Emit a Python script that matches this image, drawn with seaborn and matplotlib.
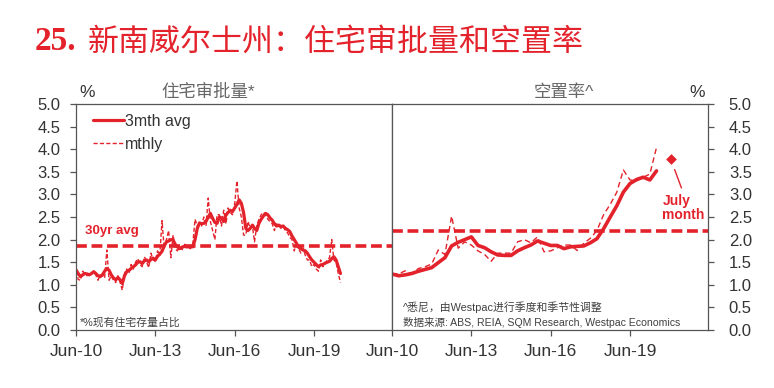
import numpy as np
import pandas as pd
import matplotlib
matplotlib.use("Agg")
import matplotlib.pyplot as plt
import seaborn as sns
from matplotlib.lines import Line2D

# ---------------- data ----------------
approvals_start = "2010-06-01"
# dwelling approvals, % of dwelling stock (annualised), 3mth avg
approvals_3mth = [
    1.33, 1.25, 1.18, 1.22, 1.25, 1.24, 1.22, 1.25, 1.29, 1.25,
    1.20, 1.18, 1.22, 1.30, 1.36, 1.32, 1.22, 1.15, 1.11, 1.16,
    1.11, 1.03, 1.20, 1.29, 1.32, 1.36, 1.40, 1.44, 1.50, 1.51,
    1.47, 1.53, 1.55, 1.51, 1.56, 1.59, 1.55, 1.63, 1.68, 1.74,
    1.86, 1.95, 1.97, 2.00, 1.99, 1.90, 1.84, 1.80, 1.83, 1.85,
    1.84, 1.84, 1.85, 1.84, 2.00, 2.25, 2.37, 2.35, 2.36, 2.40,
    2.50, 2.58, 2.47, 2.38, 2.36, 2.50, 2.48, 2.40, 2.55, 2.60,
    2.65, 2.62, 2.70, 2.78, 2.88, 2.80, 2.60, 2.25, 2.20, 2.25,
    2.32, 2.25, 2.20, 2.36, 2.45, 2.52, 2.58, 2.55, 2.48, 2.43,
    2.35, 2.30, 2.32, 2.29, 2.30, 2.25, 2.22, 2.18, 2.08, 2.00,
    1.92, 1.83, 1.80, 1.77, 1.75, 1.70, 1.62, 1.55, 1.50, 1.45,
    1.40, 1.44, 1.45, 1.48, 1.50, 1.52, 1.58, 1.62, 1.55, 1.40,
    1.25,
]
approvals_mthly = [
    1.30, 1.12, 1.10, 1.30, 1.25, 1.20, 1.26, 1.24, 1.30, 1.22,
    1.10, 1.22, 1.20, 1.15, 1.77, 1.10, 1.20, 1.10, 1.05, 1.20,
    1.05, 0.88, 1.25, 1.35, 1.25, 1.45, 1.35, 1.50, 1.58, 1.45,
    1.40, 1.62, 1.50, 1.38, 1.70, 1.55, 1.52, 1.75, 1.65, 2.42,
    1.80, 2.00, 2.20, 1.60, 2.10, 1.80, 1.75, 1.85, 1.75, 1.90,
    1.88, 1.82, 1.80, 1.92, 2.45, 2.30, 2.35, 2.30, 2.50, 2.30,
    2.92, 2.40, 2.20, 2.00, 2.55, 2.55, 2.30, 2.65, 2.35, 2.70,
    2.60, 2.55, 2.80, 3.30, 2.70, 2.50, 2.10, 2.10, 2.40, 2.25,
    2.30, 1.95, 2.30, 2.45, 2.55, 2.60, 2.55, 2.45, 2.40, 2.35,
    2.20, 2.35, 2.30, 2.25, 2.30, 2.20, 2.15, 2.05, 2.00, 1.75,
    1.95, 1.80, 1.70, 1.80, 1.65, 1.55, 1.55, 1.40, 1.45, 1.35,
    1.30, 1.55, 1.40, 1.45, 1.55, 1.60, 2.00, 1.55, 1.50, 1.25,
    1.05,
]
approvals_30yr_avg = 1.85

vacancy_start = "2010-06-01"
# Sydney rental vacancy rate, quarterly (seasonally adjusted)
vacancy_3mth = [
    1.24, 1.20, 1.22, 1.25, 1.30, 1.34, 1.38, 1.49, 1.60, 1.86,
    1.94, 2.00, 2.06, 1.87, 1.82, 1.73, 1.66, 1.65, 1.65, 1.75,
    1.82, 1.88, 1.97, 1.92, 1.87, 1.87, 1.80, 1.84, 1.85, 1.86,
    1.93, 2.02, 2.24, 2.50, 2.75, 3.05, 3.24, 3.33, 3.38, 3.32,
    3.52,
]
vacancy_mthly = [
    1.24, 1.24, 1.31, 1.25, 1.36, 1.40, 1.46, 1.77, 1.67, 2.52,
    1.81, 1.95, 1.88, 1.75, 1.67, 1.52, 1.70, 1.70, 1.70, 1.95,
    2.00, 1.93, 2.06, 1.73, 1.75, 1.82, 1.88, 1.88, 1.76, 1.92,
    2.03, 2.20, 2.55, 2.78, 3.05, 3.54, 3.32, 3.30, 3.38, 3.45,
    4.04,
]
vacancy_avg = 2.2
july_month_date = "2020-12-15"
july_month_value = 3.78

tick_dates = ["2010-06-01", "2013-06-01", "2016-06-01", "2019-06-01"]
tick_labels = ["Jun-10", "Jun-13", "Jun-16", "Jun-19"]
yticks = np.arange(0, 5.01, 0.5)

# ---------------- frames ----------------
appr = pd.DataFrame({
    "date": pd.date_range(approvals_start, periods=len(approvals_3mth), freq="MS"),
    "avg3": approvals_3mth,
    "mthly": approvals_mthly,
})
vac = pd.DataFrame({
    "date": pd.date_range(vacancy_start, periods=len(vacancy_3mth), freq="3MS"),
    "avg3": vacancy_3mth,
    "mthly": vacancy_mthly,
})

# ---------------- style ----------------
sns.set_style("white")
plt.rcParams["font.family"] = ["Liberation Sans", "Noto Sans CJK SC", "DejaVu Sans"]
RED = "#E3222B"
SPINE = "#555555"
TXT = "#333333"

fig = plt.figure(figsize=(7.74, 3.88), dpi=100)
ax1 = fig.add_axes([76 / 774, 58 / 388, 316 / 774, 226 / 388])
ax2 = fig.add_axes([392 / 774, 58 / 388, 316 / 774, 226 / 388])

xmin, xmax = pd.Timestamp("2010-06-01"), pd.Timestamp("2022-05-13")

# left panel
sns.lineplot(data=appr, x="date", y="mthly", ax=ax1, color=RED, lw=1.0,
             linestyle=(0, (3, 1.6)))
sns.lineplot(data=appr, x="date", y="avg3", ax=ax1, color=RED, lw=2.3)
ax1.axhline(approvals_30yr_avg, color=RED, lw=2.6, linestyle=(0, (3, 1.3)))

# right panel
sns.lineplot(data=vac, x="date", y="mthly", ax=ax2, color=RED, lw=1.0,
             linestyle=(0, (4, 2.5)))
sns.lineplot(data=vac, x="date", y="avg3", ax=ax2, color=RED, lw=2.6)
ax2.axhline(vacancy_avg, color=RED, lw=2.6, linestyle=(0, (3, 1.3)))
sns.scatterplot(x=[pd.Timestamp(july_month_date)], y=[july_month_value], ax=ax2,
                marker="D", color=RED, s=30, edgecolor=RED, linewidth=0)
ax2.annotate("July\nmonth", xy=(pd.Timestamp(july_month_date), july_month_value),
             xytext=(-6, -25), textcoords="offset points", ha="left", va="top",
             fontsize=10, fontweight="bold", color=RED, linespacing=1.05,
             arrowprops=dict(arrowstyle="-", color=RED, lw=1.0,
                             relpos=(0.5, 1.0), shrinkA=2, shrinkB=8))

for ax in (ax1, ax2):
    ax.set_xlim(xmin, xmax)
    ax.set_ylim(0, 5)
    ax.set_yticks(yticks)
    ax.set_yticklabels([f"{v:.1f}" for v in yticks])
    ax.set_xticks(pd.to_datetime(tick_dates))
    ax.set_xticklabels(tick_labels)
    ax.set_xlabel("")
    ax.set_ylabel("")
    for s in ax.spines.values():
        s.set_visible(True)
        s.set_color(SPINE)
        s.set_linewidth(0.9)
    ax.tick_params(axis="x", bottom=True, direction="out", length=4, width=0.9,
                   color=SPINE, labelsize=12.5, labelcolor=TXT, pad=6)
    ax.grid(False)

ax1.tick_params(axis="y", left=True, right=False, direction="out", length=4,
                width=0.9, color=SPINE, labelsize=12, labelcolor=TXT, pad=7)
ax2.yaxis.tick_right()
ax2.tick_params(axis="y", right=True, left=False, labelright=True, labelleft=False,
                direction="out", length=4, width=0.9, color=SPINE, labelsize=12,
                labelcolor=TXT, pad=11)

# legend
handles = [Line2D([], [], color=RED, lw=2.3),
           Line2D([], [], color=RED, lw=1.0, linestyle=(0, (3, 1.6)))]
ax1.legend(handles, ["3mth avg", "mthly"], loc="upper left",
           bbox_to_anchor=(0.035, 0.985), frameon=False, fontsize=11.5,
           handlelength=1.9, handletextpad=0.1, labelspacing=0.5,
           borderaxespad=0, labelcolor=TXT)

ax1.text(0.03, 0.44, "30yr avg", transform=ax1.transAxes, color=RED,
         fontsize=9.5, fontweight="bold", va="center", ha="left")

# panel headings
ax1.text(0.418, 1.053, "住宅审批量*", transform=ax1.transAxes, ha="center",
         va="center", fontsize=12.5, color="#666666")
ax1.text(0.035, 1.053, "%", transform=ax1.transAxes, ha="center", va="center",
         fontsize=12.5, color=TXT)
ax2.text(0.544, 1.053, "空置率^", transform=ax2.transAxes, ha="center",
         va="center", fontsize=12.5, color="#666666")
ax2.text(0.965, 1.053, "%", transform=ax2.transAxes, ha="center", va="center",
         fontsize=12.5, color=TXT)

# footnotes
ax1.text(0.012, 0.033, "*%现有住宅存量占比", transform=ax1.transAxes,
         fontsize=7.8, color="#404040", va="center", ha="left")
ax2.text(0.035, 0.102, "^悉尼，由Westpac进行季度和季节性调整", transform=ax2.transAxes,
         fontsize=7.8, color="#404040", va="center", ha="left")
ax2.text(0.035, 0.033, "数据来源: ABS, REIA, SQM Research, Westpac Economics",
         transform=ax2.transAxes, fontsize=7.6, color="#404040", va="center",
         ha="left")

# title
fig.text(35 / 774, 1 - 42 / 388, "25.", fontsize=24, fontweight="bold",
         color=RED, va="center", ha="left",
         family=["Liberation Serif", "DejaVu Serif"])
fig.text(88 / 774, 1 - 42 / 388, "新南威尔士州：住宅审批量和空置率", fontsize=22.3,
         color=RED, va="center", ha="left",
         family=["Noto Sans CJK SC", "DejaVu Sans"])

fig.savefig("out.png", dpi=100)
